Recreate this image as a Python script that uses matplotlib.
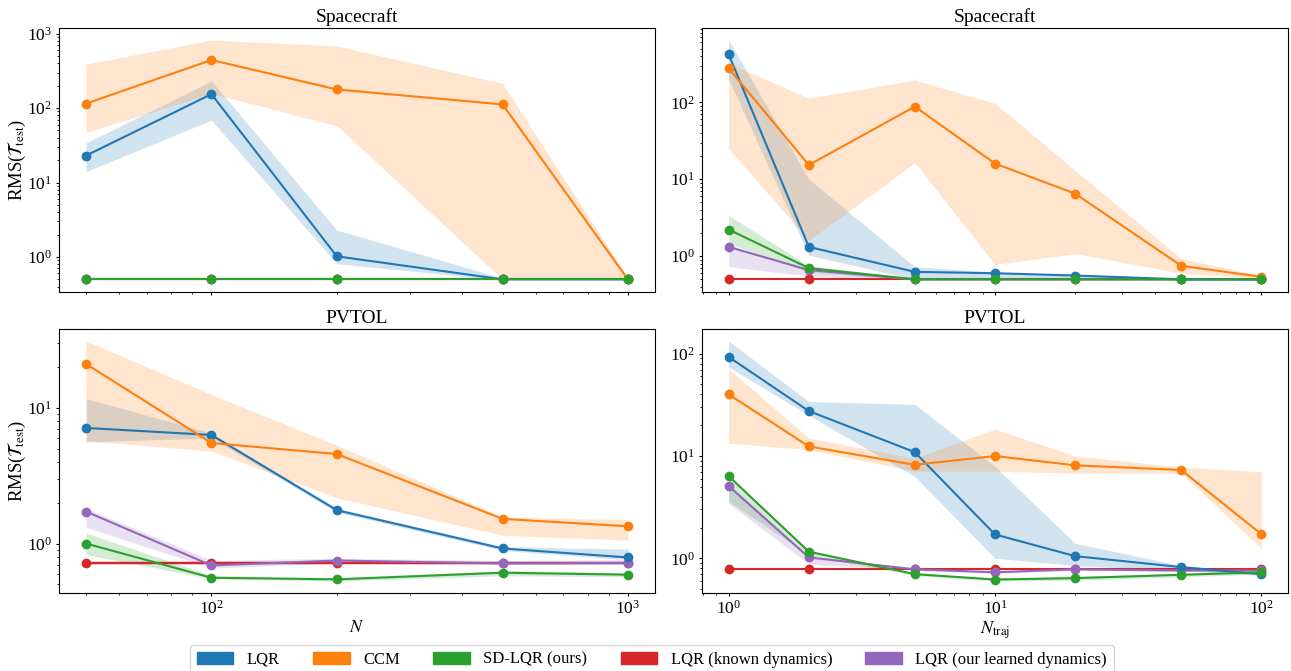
import numpy as np
import matplotlib
matplotlib.use('Agg')
import matplotlib.pyplot as plt
from matplotlib.patches import Patch

plt.rcParams['font.family'] = ['Liberation Serif', 'DejaVu Serif']
plt.rcParams['mathtext.fontset'] = 'stix'

# x values
n_samples = [50, 100, 200, 500, 1000]
n_traj = [1, 2, 5, 10, 20, 50, 100]

labels = ['LQR', 'CCM', 'SD-LQR (ours)', 'LQR (known dynamics)', 'LQR (our learned dynamics)']
colors = ['#1f77b4', '#ff7f0e', '#2ca02c', '#d62728', '#9467bd']

# Spacecraft vs N : mean, lower, upper
sc_n_lqr = [23, 154, 1.02, 0.5, 0.5]
sc_n_lqr_lo = [14, 69, 0.81, 0.49, 0.49]
sc_n_lqr_hi = [34, 231, 2.3, 0.52, 0.51]
sc_n_ccm = [115, 443, 178, 112, 0.5]
sc_n_ccm_lo = [47, 157, 58, 0.5, 0.49]
sc_n_ccm_hi = [390, 822, 683, 215, 0.52]
sc_n_sd = [0.5, 0.5, 0.5, 0.5, 0.5]
sc_n_known = [0.5, 0.5, 0.5, 0.5, 0.5]
sc_n_learned = [0.5, 0.5, 0.5, 0.5, 0.5]

# Spacecraft vs N_traj
sc_t_lqr = [421, 1.32, 0.625, 0.60, 0.56, 0.50, 0.50]
sc_t_lqr_lo = [200, 1.03, 0.5, 0.52, 0.5, 0.49, 0.49]
sc_t_lqr_hi = [646, 10, 0.73, 0.62, 0.58, 0.51, 0.51]
sc_t_ccm = [277, 15.3, 88, 16, 6.5, 0.75, 0.54]
sc_t_ccm_lo = [25, 1.6, 16.4, 0.78, 1.08, 0.6, 0.52]
sc_t_ccm_hi = [322, 113, 195, 97, 13, 0.93, 0.56]
sc_t_sd = [2.22, 0.70, 0.5, 0.5, 0.5, 0.5, 0.5]
sc_t_sd_lo = [1.46, 0.62, 0.49, 0.49, 0.49, 0.49, 0.49]
sc_t_sd_hi = [3.4, 0.75, 0.51, 0.51, 0.51, 0.51, 0.51]
sc_t_known = [0.5, 0.5, 0.5, 0.5, 0.5, 0.5, 0.5]
sc_t_learned = [1.32, 0.66, 0.5, 0.5, 0.5, 0.5, 0.5]
sc_t_learned_lo = [0.73, 0.55, 0.49, 0.49, 0.49, 0.49, 0.49]
sc_t_learned_hi = [1.4, 0.68, 0.51, 0.51, 0.51, 0.51, 0.51]

# PVTOL vs N
pv_n_lqr = [7.1, 6.3, 1.76, 0.92, 0.79]
pv_n_lqr_lo = [5.6, 6.0, 1.7, 0.89, 0.76]
pv_n_lqr_hi = [11.7, 6.5, 1.82, 0.95, 0.91]
pv_n_ccm = [21, 5.5, 4.56, 1.52, 1.34]
pv_n_ccm_lo = [5.7, 4.8, 2.17, 1.15, 1.06]
pv_n_ccm_hi = [31, 12.5, 5.3, 1.57, 1.5]
pv_n_sd = [1.0, 0.56, 0.545, 0.61, 0.59]
pv_n_sd_lo = [0.83, 0.55, 0.53, 0.58, 0.57]
pv_n_sd_hi = [1.2, 0.58, 0.56, 0.63, 0.61]
pv_n_known = [0.72, 0.72, 0.72, 0.72, 0.72]
pv_n_known_lo = [0.70, 0.70, 0.70, 0.70, 0.70]
pv_n_known_hi = [0.74, 0.74, 0.74, 0.74, 0.74]
pv_n_learned = [1.72, 0.69, 0.75, 0.714, 0.72]
pv_n_learned_lo = [1.32, 0.66, 0.72, 0.70, 0.70]
pv_n_learned_hi = [1.82, 0.75, 0.78, 0.75, 0.76]

# PVTOL vs N_traj
pv_t_lqr = [93, 27.5, 10.9, 1.71, 1.05, 0.82, 0.70]
pv_t_lqr_lo = [74, 25, 6.3, 1.0, 0.85, 0.76, 0.68]
pv_t_lqr_hi = [133, 34, 32, 7.9, 1.4, 0.85, 0.72]
pv_t_ccm = [40, 12.4, 8.2, 10.0, 8.1, 7.3, 1.72]
pv_t_ccm_lo = [13.4, 11.5, 7.1, 7.1, 6.8, 6.8, 1.25]
pv_t_ccm_hi = [71, 15, 9.5, 18.3, 10, 7.8, 7.0]
pv_t_sd = [6.35, 1.16, 0.70, 0.62, 0.64, 0.69, 0.73]
pv_t_sd_lo = [3.6, 1.08, 0.68, 0.60, 0.61, 0.66, 0.70]
pv_t_sd_hi = [6.6, 1.2, 0.72, 0.64, 0.67, 0.71, 0.75]
pv_t_known = [0.78, 0.78, 0.78, 0.78, 0.78, 0.78, 0.78]
pv_t_known_lo = [0.76, 0.76, 0.76, 0.76, 0.76, 0.76, 0.76]
pv_t_known_hi = [0.80, 0.80, 0.80, 0.80, 0.80, 0.80, 0.80]
pv_t_learned = [5.08, 1.02, 0.78, 0.73, 0.78, 0.76, 0.76]
pv_t_learned_lo = [3.44, 0.88, 0.76, 0.71, 0.76, 0.74, 0.74]
pv_t_learned_hi = [5.3, 1.05, 0.80, 0.75, 0.80, 0.78, 0.78]


def draw(ax, x, mean, lo, hi, color):
    ax.fill_between(x, lo, hi, color=color, alpha=0.2, linewidth=0)
    ax.plot(x, mean, marker='o', color=color, linewidth=1.5, markersize=6)


W, H = 1291, 671
fig = plt.figure(figsize=(W / 100, H / 100), dpi=100)
ax_tl = fig.add_axes([59 / W, 1 - 292 / H, 596 / W, 264 / H])
ax_tr = fig.add_axes([702 / W, 1 - 292 / H, 586 / W, 264 / H])
ax_bl = fig.add_axes([59 / W, 1 - 593 / H, 596 / W, 264 / H], sharex=ax_tl)
ax_br = fig.add_axes([702 / W, 1 - 593 / H, 586 / W, 264 / H], sharex=ax_tr)

# Spacecraft vs N
draw(ax_tl, n_samples, sc_n_known, sc_n_known, sc_n_known, colors[3])
draw(ax_tl, n_samples, sc_n_learned, sc_n_learned, sc_n_learned, colors[4])
draw(ax_tl, n_samples, sc_n_lqr, sc_n_lqr_lo, sc_n_lqr_hi, colors[0])
draw(ax_tl, n_samples, sc_n_ccm, sc_n_ccm_lo, sc_n_ccm_hi, colors[1])
draw(ax_tl, n_samples, sc_n_sd, sc_n_sd, sc_n_sd, colors[2])

# Spacecraft vs N_traj
draw(ax_tr, n_traj, sc_t_known, sc_t_known, sc_t_known, colors[3])
draw(ax_tr, n_traj, sc_t_learned, sc_t_learned_lo, sc_t_learned_hi, colors[4])
draw(ax_tr, n_traj, sc_t_lqr, sc_t_lqr_lo, sc_t_lqr_hi, colors[0])
draw(ax_tr, n_traj, sc_t_ccm, sc_t_ccm_lo, sc_t_ccm_hi, colors[1])
draw(ax_tr, n_traj, sc_t_sd, sc_t_sd_lo, sc_t_sd_hi, colors[2])

# PVTOL vs N
draw(ax_bl, n_samples, pv_n_known, pv_n_known_lo, pv_n_known_hi, colors[3])
draw(ax_bl, n_samples, pv_n_learned, pv_n_learned_lo, pv_n_learned_hi, colors[4])
draw(ax_bl, n_samples, pv_n_lqr, pv_n_lqr_lo, pv_n_lqr_hi, colors[0])
draw(ax_bl, n_samples, pv_n_ccm, pv_n_ccm_lo, pv_n_ccm_hi, colors[1])
draw(ax_bl, n_samples, pv_n_sd, pv_n_sd_lo, pv_n_sd_hi, colors[2])

# PVTOL vs N_traj
draw(ax_br, n_traj, pv_t_known, pv_t_known_lo, pv_t_known_hi, colors[3])
draw(ax_br, n_traj, pv_t_learned, pv_t_learned_lo, pv_t_learned_hi, colors[4])
draw(ax_br, n_traj, pv_t_lqr, pv_t_lqr_lo, pv_t_lqr_hi, colors[0])
draw(ax_br, n_traj, pv_t_ccm, pv_t_ccm_lo, pv_t_ccm_hi, colors[1])
draw(ax_br, n_traj, pv_t_sd, pv_t_sd_lo, pv_t_sd_hi, colors[2])

for ax in [ax_tl, ax_tr, ax_bl, ax_br]:
    ax.set_xscale('log')
    ax.set_yscale('log')
    ax.tick_params(which='major', labelsize=12.5, length=2.5, pad=2.5)
    ax.tick_params(which='minor', length=1.5)

ax_tl.set_title('Spacecraft', fontsize=14, pad=4)
ax_tr.set_title('Spacecraft', fontsize=14, pad=4)
ax_bl.set_title('PVTOL', fontsize=14, pad=4)
ax_br.set_title('PVTOL', fontsize=14, pad=4)
ax_tl.set_ylabel(r'RMS($\mathcal{T}_{\mathrm{test}}$)', fontsize=13.5)
ax_bl.set_ylabel(r'RMS($\mathcal{T}_{\mathrm{test}}$)', fontsize=13.5)
ax_tl.yaxis.set_label_coords(-0.052, 0.5)
ax_bl.yaxis.set_label_coords(-0.052, 0.5)
ax_bl.set_xlabel(r'$N$', fontsize=13, labelpad=1)
ax_br.set_xlabel(r'$N_{\mathrm{traj}}$', fontsize=13, labelpad=1)
ax_tl.tick_params(labelbottom=False)
ax_tr.tick_params(labelbottom=False)

handles = [Patch(color=c) for c in colors]
fig.legend(handles, labels, loc='upper center', bbox_to_anchor=(0.505, 1 - 645 / H),
           borderaxespad=0, ncol=5, fontsize=12, handlelength=2.2, handleheight=0.8)

fig.savefig('out.png', dpi=100)
